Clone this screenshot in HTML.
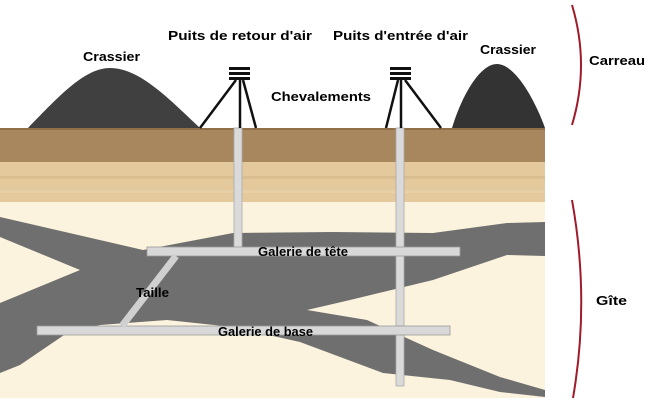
<!DOCTYPE html>
<html><head><meta charset="utf-8"><style>
html,body{margin:0;padding:0;background:#fff;width:650px;height:420px;overflow:hidden}
text{font-family:"Liberation Sans",sans-serif;font-weight:bold;font-size:13px;fill:#000}
</style></head><body>
<svg width="650" height="420" viewBox="0 0 650 420" xmlns="http://www.w3.org/2000/svg">
<path d="M28,128 C60,95 85,68 110,68 C140,68 170,100 200,128 Z" fill="#404040"/>
<path d="M452,128 C462,95 480,64 497,64 C515,64 535,100 545,128 Z" fill="#333"/>
<rect x="0" y="128" width="545" height="34" fill="#a8875f"/>
<rect x="0" y="128" width="545" height="2" fill="#8f6f48"/>
<rect x="0" y="162" width="545" height="40" fill="#e4c99c"/>
<rect x="0" y="176" width="545" height="3" fill="#dcbf90"/>
<rect x="0" y="190" width="545" height="3" fill="#e8d0a6"/>
<rect x="0" y="202" width="545" height="196" fill="#fbf3dd"/>
<path d="M0,217 L143,250 L233,233 L333,232 L433,233 L507,223 L545,222 L545,256 L507,255 L433,280 L350,300 L307,310 L367,320 L400,335 L433,350 L500,377 L545,390 L545,397 L500,392 L450,380 L383,373 L300,342 L233,327 L167,320 L100,325 L67,333 L20,365 L0,373 L0,303 L80,270 L0,237 Z" fill="#6f6f6f"/>
<rect x="234" y="128" width="8" height="124" fill="#dadada" stroke="#aaa" stroke-width="0.8"/>
<rect x="396" y="128" width="8" height="258" fill="#dadada" stroke="#aaa" stroke-width="0.8"/>
<rect x="147" y="247" width="313" height="9" fill="#d8d8d8" stroke="#9a9a9a" stroke-width="0.8"/>
<rect x="37" y="326" width="413" height="9" fill="#d8d8d8" stroke="#9a9a9a" stroke-width="0.8"/>
<line x1="176" y1="256" x2="122" y2="326" stroke="#d0d0d0" stroke-width="7"/>
<g stroke="#111" stroke-width="2.5" fill="none">
<line x1="236" y1="80" x2="200" y2="128"/><line x1="240" y1="80" x2="240" y2="128"/><line x1="243" y1="80" x2="256" y2="128"/>
<line x1="398" y1="80" x2="386" y2="128"/><line x1="401" y1="80" x2="401" y2="128"/><line x1="405" y1="80" x2="441" y2="128"/>
</g>
<g fill="#111">
<rect x="229" y="67" width="21" height="3"/><rect x="229" y="72" width="21" height="3"/><rect x="229" y="77" width="21" height="3"/>
<rect x="390" y="67" width="21" height="3"/><rect x="390" y="72" width="21" height="3"/><rect x="390" y="77" width="21" height="3"/>
</g>
<path d="M572,5 Q590,65 572,125" stroke="#a01a2a" stroke-width="2" fill="none"/>
<path d="M572,200 Q590,300 573,398" stroke="#a01a2a" stroke-width="2" fill="none"/>
<text x="83" y="61" textLength="57" lengthAdjust="spacingAndGlyphs">Crassier</text>
<text x="168" y="40" textLength="144" lengthAdjust="spacingAndGlyphs">Puits de retour d'air</text>
<text x="333" y="40" textLength="135" lengthAdjust="spacingAndGlyphs">Puits d'entrée d'air</text>
<text x="480" y="54" textLength="56" lengthAdjust="spacingAndGlyphs">Crassier</text>
<text x="271" y="101" textLength="100" lengthAdjust="spacingAndGlyphs">Chevalements</text>
<text x="589" y="65" textLength="56" lengthAdjust="spacingAndGlyphs">Carreau</text>
<text x="596" y="305" textLength="31" lengthAdjust="spacingAndGlyphs">Gîte</text>
<text x="258" y="256" textLength="90" lengthAdjust="spacingAndGlyphs">Galerie de tête</text>
<text x="136" y="297" textLength="33" lengthAdjust="spacingAndGlyphs">Taille</text>
<text x="218" y="336" textLength="95" lengthAdjust="spacingAndGlyphs">Galerie de base</text>
</svg>
</body></html>
